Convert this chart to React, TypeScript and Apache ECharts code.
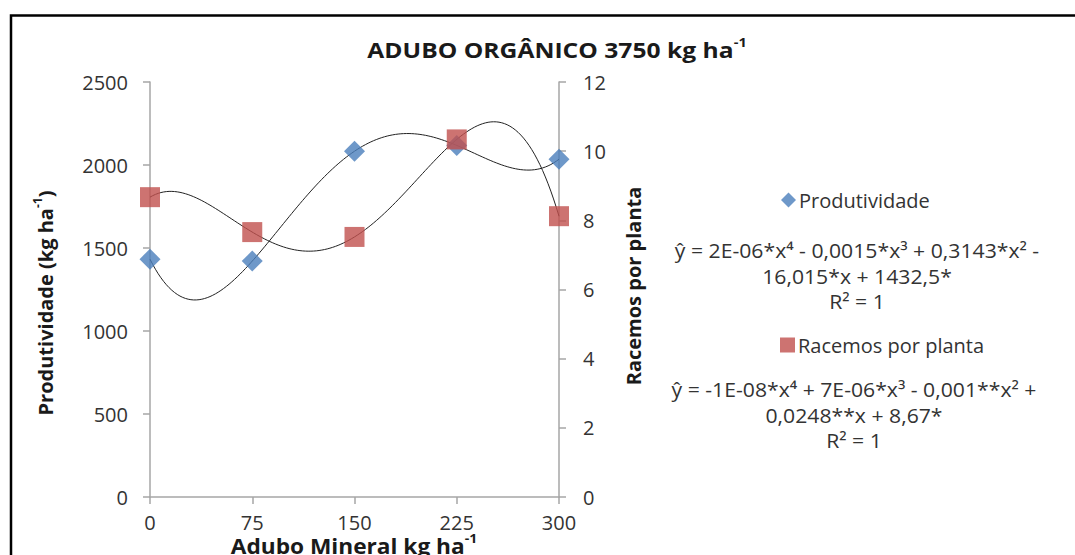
import React, { useEffect, useRef } from "react";
import * as echarts from "echarts";

const doses = [0, 75, 150, 225, 300];
const produtividade = [1432.5, 1421, 2083, 2118, 2035];
const racemos = [8.67, 7.66, 7.52, 10.34, 8.12];
const leftTicks = { min: 0, max: 2500, interval: 500 };
const rightTicks = { min: 0, max: 12, interval: 2 };
const xTicks = { min: 0, max: 300, interval: 75 };

const eqProd = ["ŷ = 2E-06*x⁴ - 0,0015*x³ + 0,3143*x² -", "16,015*x + 1432,5*", "R² = 1"];
const eqRac = ["ŷ = -1E-08*x⁴ + 7E-06*x³ - 0,001**x² +", "0,0248**x + 8,67*", "R² = 1"];

// exact degree-4 polynomial fit (Excel poly trendline, R² = 1) via Lagrange form
function poly(xs: number[], ys: number[], x: number) {
  let s = 0;
  for (let i = 0; i < xs.length; i++) {
    let t = ys[i];
    for (let j = 0; j < xs.length; j++) {
      if (j !== i) t *= (x - xs[j]) / (xs[i] - xs[j]);
    }
    s += t;
  }
  return s;
}
function trend(ys: number[]) {
  const out: number[][] = [];
  for (let x = 0; x <= 300; x += 2) out.push([x, poly(doses, ys, x)]);
  return out;
}

const FONT = "Open Sans";
const INK = "#1a1a1a";
const LABEL = "#333";

export default function App() {
  const ref = useRef<HTMLDivElement>(null);
  useEffect(() => {
    const chart = echarts.init(ref.current!, null, { renderer: "svg" });
    const axisLine = { show: true, lineStyle: { color: "#a6a6a6", width: 1.5 } };
    const axisTick = { show: true, inside: false, length: 7, lineStyle: { color: "#a6a6a6", width: 1.5 } };
    const axisLabel = { color: LABEL, fontFamily: FONT, fontSize: 20, formatter: (v: number) => String(v) };
    const boldRich = (size: number) => ({
      t: { fontFamily: FONT, fontWeight: "bold", fontSize: size, fill: INK, lineHeight: size + 8 },
      s: { fontFamily: FONT, fontWeight: "bold", fontSize: Math.round(size * 0.6), fill: INK, lineHeight: size + 8, verticalAlign: "top", padding: [0, 0, Math.round(size * 0.5), 0] },
    });
    chart.setOption({
      animation: false,
      backgroundColor: "#fff",
      textStyle: { fontFamily: FONT },
      grid: { left: 150, right: 516, top: 82, bottom: 58, containLabel: false },
      xAxis: {
        type: "value",
        min: xTicks.min,
        max: xTicks.max,
        interval: xTicks.interval,
        axisLine,
        axisTick,
        axisLabel: { ...axisLabel, margin: 15 },
        splitLine: { show: false },
      },
      yAxis: [
        {
          type: "value",
          min: leftTicks.min,
          max: leftTicks.max,
          interval: leftTicks.interval,
          position: "left",
          axisLine,
          axisTick,
          axisLabel: { ...axisLabel, margin: 22 },
          splitLine: { show: false },
        },
        {
          type: "value",
          min: rightTicks.min,
          max: rightTicks.max,
          interval: rightTicks.interval,
          position: "right",
          axisLine,
          axisTick,
          axisLabel: { ...axisLabel, margin: 24 },
          splitLine: { show: false },
        },
      ],
      legend: [
        {
          data: [{ name: "Produtividade", icon: "diamond" }],
          left: 776,
          top: 185,
          itemWidth: 15,
          itemHeight: 15,
          itemGap: 4,
          textStyle: { fontFamily: FONT, fontSize: 20, color: LABEL, padding: [0, 0, 0, -2] },
        },
        {
          data: [{ name: "Racemos por planta", icon: "rect" }],
          left: 775,
          top: 330,
          itemWidth: 15,
          itemHeight: 15,
          textStyle: { fontFamily: FONT, fontSize: 20, color: LABEL, padding: [0, 0, 0, -2] },
        },
      ],
      series: [
        {
          name: "trend-prod",
          type: "line",
          yAxisIndex: 0,
          data: trend(produtividade),
          showSymbol: false,
          symbol: "none",
          lineStyle: { color: "#222", width: 1 },
          silent: true,
          z: 1,
        },
        {
          name: "trend-rac",
          type: "line",
          yAxisIndex: 1,
          data: trend(racemos),
          showSymbol: false,
          symbol: "none",
          lineStyle: { color: "#222", width: 1 },
          silent: true,
          z: 1,
        },
        {
          name: "Produtividade",
          type: "scatter",
          yAxisIndex: 0,
          symbol: "diamond",
          symbolSize: 21,
          itemStyle: { color: "#4a7ebb" },
          data: doses.map((d, i) => [d, produtividade[i]]),
          z: 2,
        },
        {
          name: "Racemos por planta",
          type: "scatter",
          yAxisIndex: 1,
          symbol: "rect",
          symbolSize: 20,
          itemStyle: { color: "#c0504d" },
          data: doses.map((d, i) => [d, racemos[i]]),
          z: 3,
        },
      ],
      graphic: [
        {
          type: "rect",
          shape: { x: 11, y: 15.5, width: 1100, height: 600 },
          style: { fill: "none", stroke: "#000", lineWidth: 2.5 },
          silent: true,
        },
        {
          type: "text",
          x: 557,
          y: 50,
          scaleX: 1.12,
          style: {
            text: "{t|ADUBO ORGÂNICO 3750 kg ha}{s|-1}",
            align: "center",
            verticalAlign: "middle",
            rich: boldRich(22),
          },
        },
        {
          type: "text",
          x: 45,
          y: 303,
          rotation: Math.PI / 2,
          style: {
            text: "{t|Produtividade (kg ha}{s|-1}{t|)}",
            align: "center",
            verticalAlign: "middle",
            rich: boldRich(20),
          },
        },
        {
          type: "text",
          x: 633,
          y: 286,
          rotation: Math.PI / 2,
          style: {
            text: "Racemos por planta",
            align: "center",
            verticalAlign: "middle",
            fontFamily: FONT,
            fontWeight: "bold",
            fontSize: 20,
            fill: INK,
          },
        },
        {
          type: "text",
          x: 354,
          y: 546,
          scaleX: 1.08,
          style: {
            text: "{t|Adubo Mineral kg ha}{s|-1}",
            align: "center",
            verticalAlign: "middle",
            rich: boldRich(21),
          },
        },
        {
          type: "text",
          x: 857,
          y: 276,
          scaleX: 1.06,
          style: {
            text: eqProd.join("\n"),
            align: "center",
            verticalAlign: "middle",
            lineHeight: 25.5,
            fontFamily: FONT,
            fontSize: 20,
            fill: LABEL,
          },
        },
        {
          type: "text",
          x: 854,
          y: 415,
          scaleX: 1.06,
          style: {
            text: eqRac.join("\n"),
            align: "center",
            verticalAlign: "middle",
            lineHeight: 25.5,
            fontFamily: FONT,
            fontSize: 20,
            fill: LABEL,
          },
        },
      ],
    });
    return () => chart.dispose();
  }, []);
  return <div ref={ref} style={{ position: "absolute", left: 0, top: 0, width: 1075, height: 555 }} />;
}
